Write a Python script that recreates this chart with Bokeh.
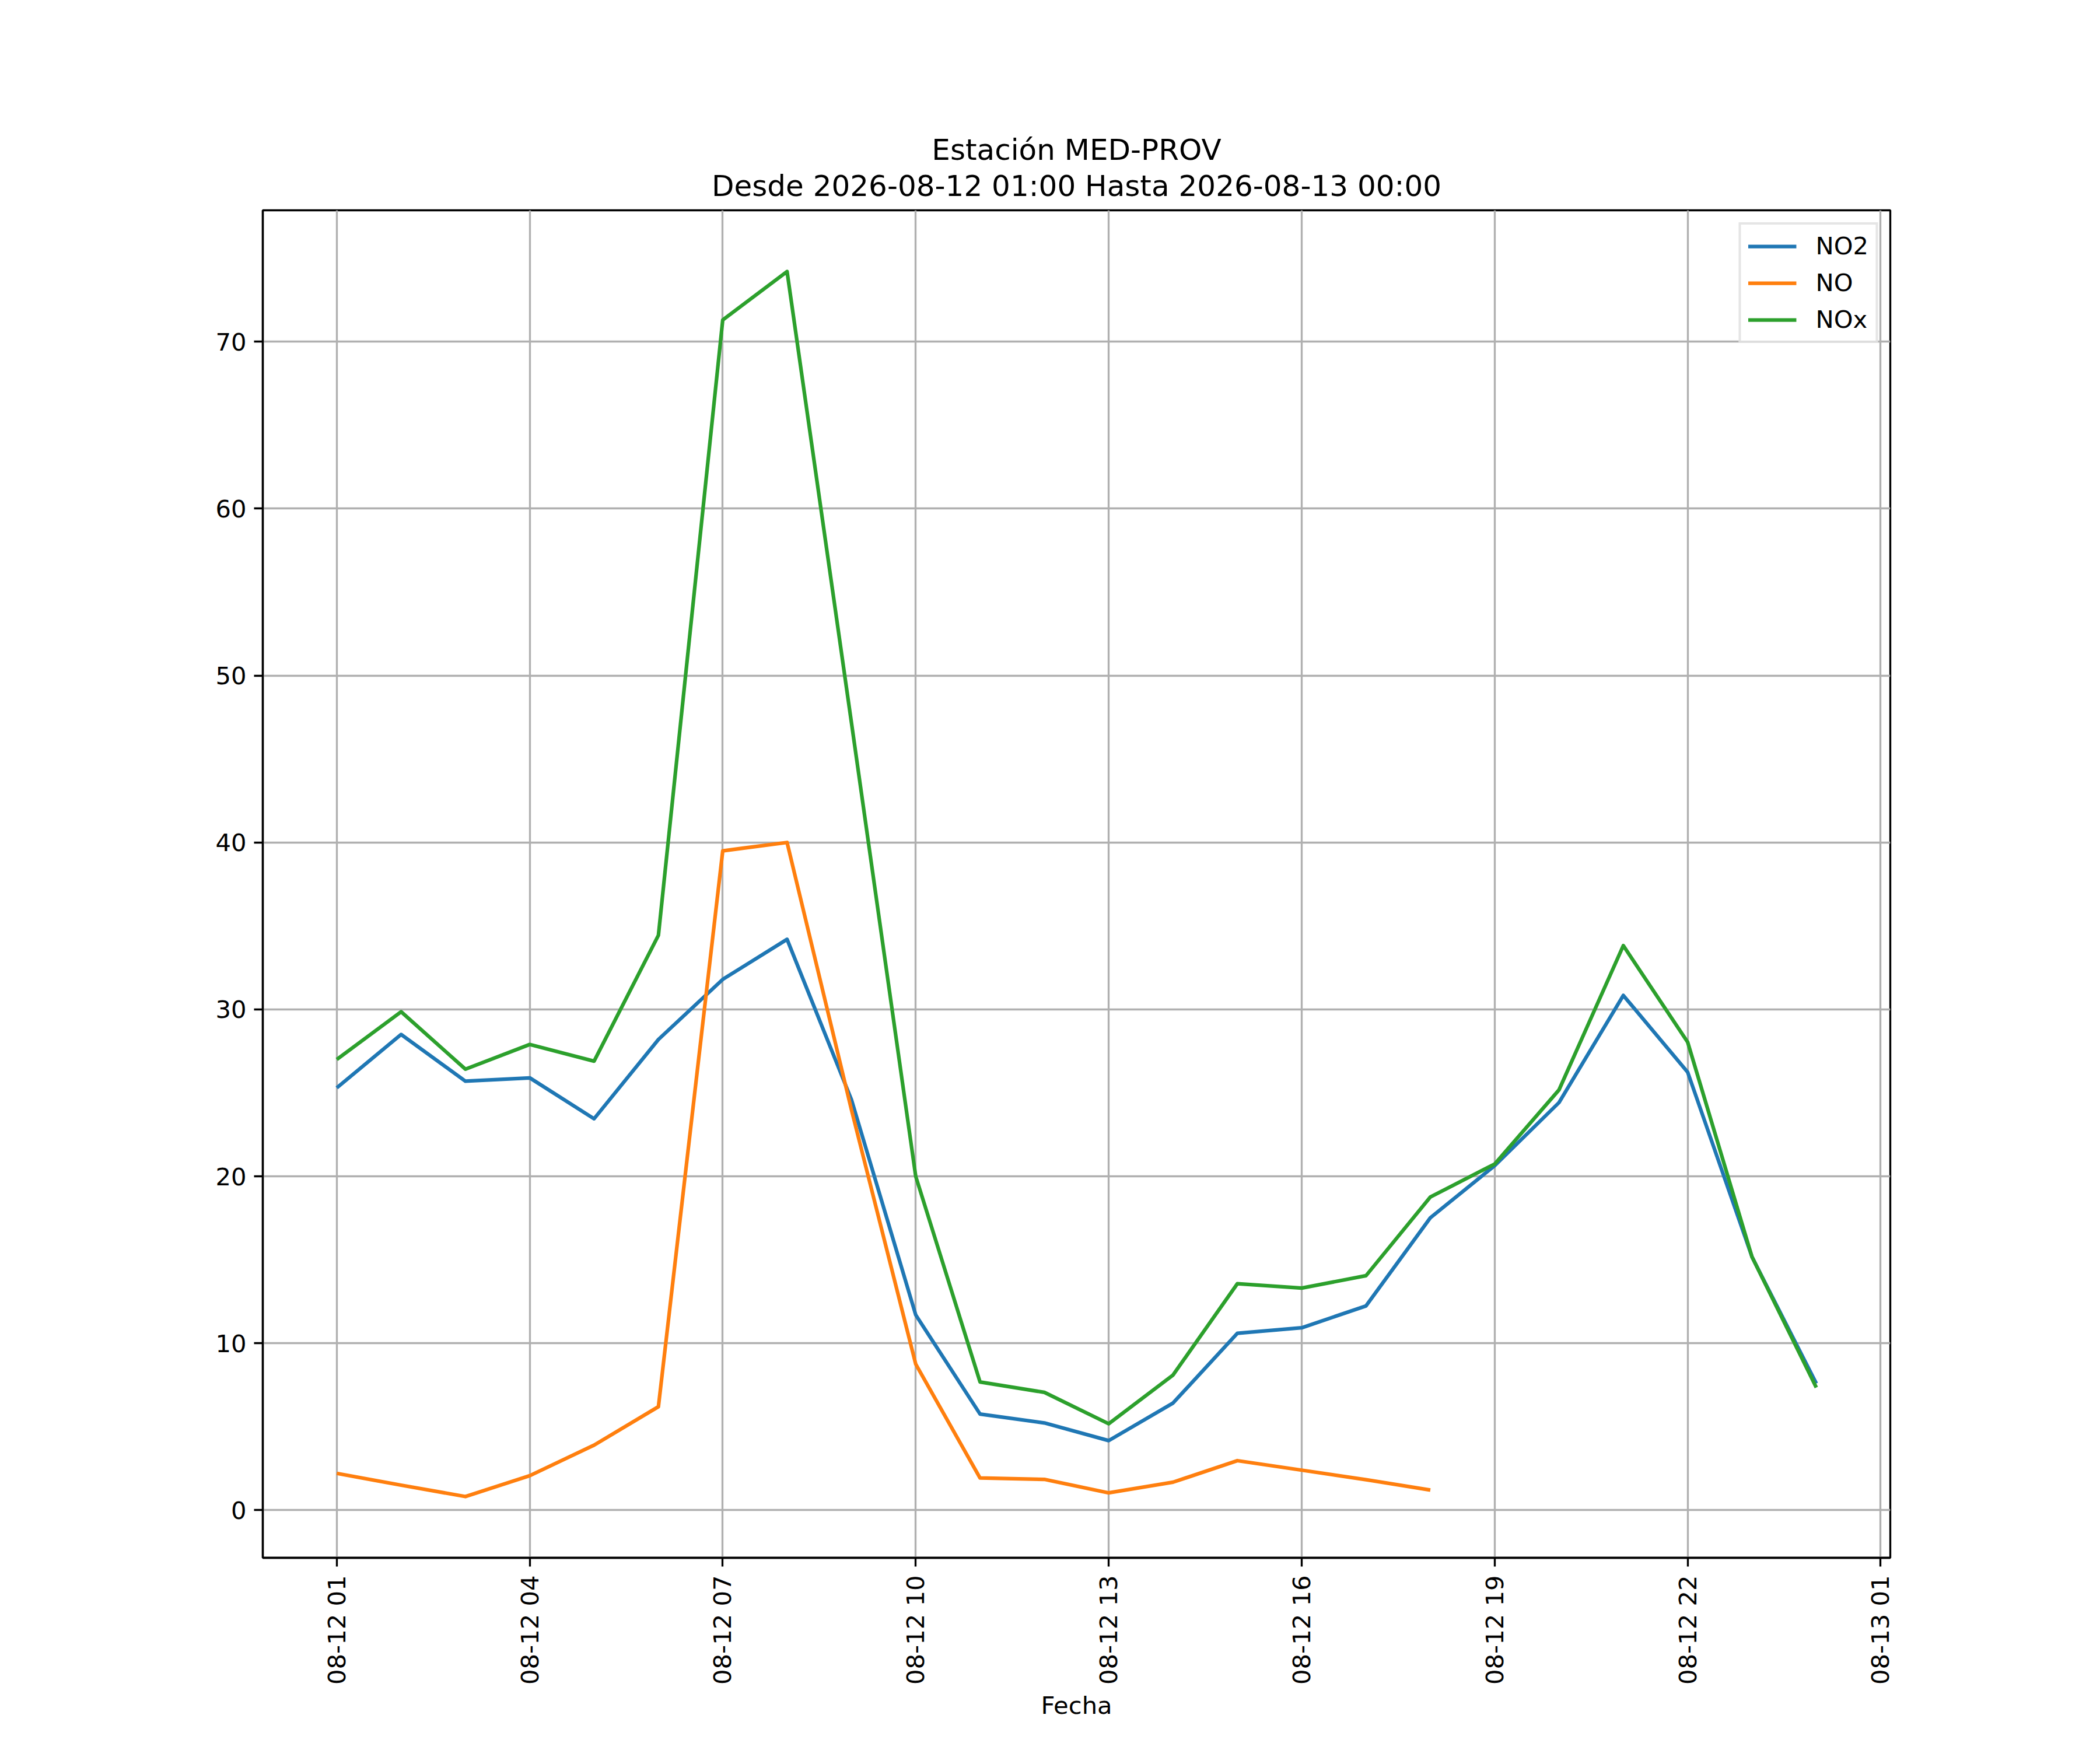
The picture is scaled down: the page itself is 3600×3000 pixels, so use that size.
import math
import numpy as np
import pandas as pd
from bokeh.plotting import figure
from bokeh.models import Range1d, FixedTicker, DatetimeTickFormatter, Title, ColumnDataSource
from bokeh.embed import file_html
from bokeh.resources import INLINE

# ---- data ----
times = pd.date_range("2026-08-12 01:00", periods=24, freq="h")
no2 = [25.3, 28.5, 25.7, 25.9, 23.45, 28.2, 31.8, 34.2, 24.6, 11.7, 5.76, 5.23,
       4.17, 6.42, 10.6, 10.93, 12.24, 17.52, 20.64, 24.42, 30.84, 26.24, 15.18, 7.59]
no = [2.21, 1.5, 0.82, 2.07, 3.9, 6.2, 39.5, 40.0, 24.0, 8.75, 1.93, 1.85,
      1.04, 1.68, 2.97, 2.40, 1.83, 1.21,
      np.nan, np.nan, np.nan, np.nan, np.nan, np.nan]
nox = [27.0, 29.86, 26.42, 27.9, 26.9, 34.44, 71.3, 74.2, 47.2, 20.0, 7.68, 7.06,
       5.18, 8.1, 13.57, 13.31, 14.05, 18.76, 20.74, 25.18, 33.82, 28.04, 15.18, 7.35]
series_names = ["NO2", "NO", "NOx"]
series_colors = ["#1f77b4", "#ff7f0e", "#2ca02c"]
x_ticks = pd.date_range("2026-08-12 01:00", "2026-08-13 01:00", freq="3h")
y_ticks = [0, 10, 20, 30, 40, 50, 60, 70]
title_line1 = "Estación MED-PROV"
title_line2 = "Desde 2026-08-12 01:00 Hasta 2026-08-13 00:00"
x_label = "Fecha"

FONT = "DejaVu Sans"
SCALE = 300 / 72.0  # px per pt

# ranges with 5% margins like matplotlib
t_ms = (times.astype("int64") // 10**6).to_numpy().astype(float)
span_x = t_ms[-1] - t_ms[0]
all_y = np.array(no2 + [v for v in no if not np.isnan(v)] + nox)
ymin, ymax = all_y.min(), all_y.max()
span_y = ymax - ymin

p = figure(width=3584, height=2984, x_axis_type="datetime",
           output_backend="svg", toolbar_location=None,
           x_range=Range1d(t_ms[0] - 0.05 * span_x, t_ms[-1] + 0.05 * span_x),
           y_range=Range1d(ymin - 0.05 * span_y, ymax + 0.05 * span_y),
           min_border_left=450, min_border_right=344,
           min_border_top=360, min_border_bottom=314)
p.title = None
p.background_fill_color = "white"
p.border_fill_color = "white"
p.outline_line_color = "black"
p.outline_line_width = 0.8 * SCALE

src = ColumnDataSource(dict(t=times, NO2=no2, NO=no, NOx=nox))
for name, col in zip(series_names, series_colors):
    p.line("t", name, source=src, line_color=col, line_width=1.5 * SCALE,
           line_join="round", legend_label=name)

# titles (first added sits closest to the plot)
p.add_layout(Title(text=title_line2, align="center", text_font=FONT,
                   text_font_size="50px", text_font_style="normal",
                   text_color="black", standoff=25), "above")
p.add_layout(Title(text=title_line1, align="center", text_font=FONT,
                   text_font_size="50px", text_font_style="normal",
                   text_color="black", standoff=-21), "above")

# axes
x_tick_ms = list((x_ticks.astype("int64") // 10**6).to_numpy().astype(float))
p.xaxis.ticker = FixedTicker(ticks=x_tick_ms)
fmt = "%m-%d %H"
p.xaxis.formatter = DatetimeTickFormatter(hours=fmt, hourmin=fmt, days=fmt,
                                          minutes=fmt, minsec=fmt, months=fmt)
p.yaxis.ticker = FixedTicker(ticks=y_ticks)
p.xaxis.major_label_orientation = math.pi / 2
for ax in (p.xaxis, p.yaxis):
    ax.axis_line_width = 0.8 * SCALE
    ax.axis_line_color = "black"
    ax.major_tick_line_width = 0.8 * SCALE
    ax.major_tick_line_color = "black"
    ax.major_tick_out = 15
    ax.major_tick_in = 0
    ax.minor_tick_out = 0
    ax.minor_tick_in = 0
    ax.major_label_text_font = FONT
    ax.major_label_text_font_size = "41.7px"
    ax.major_label_text_color = "black"
    ax.major_label_standoff = 15
p.yaxis.major_label_standoff = 13
p.xaxis.axis_label = x_label
p.xaxis.axis_label_text_font = FONT
p.xaxis.axis_label_text_font_size = "41.7px"
p.xaxis.axis_label_text_font_style = "normal"
p.xaxis.axis_label_text_color = "black"
p.xaxis.axis_label_standoff = 8

p.grid.grid_line_color = "#b0b0b0"
p.grid.grid_line_width = 0.8 * SCALE

# legend
lg = p.legend[0]
lg.location = "top_right"
lg.margin = 21
lg.padding = 12
lg.spacing = 14
lg.glyph_width = 83
lg.glyph_height = 42
lg.label_height = 42
lg.label_standoff = 33
lg.label_text_font = FONT
lg.label_text_font_size = "41.7px"
lg.label_text_color = "black"
lg.border_line_color = "#cccccc"
lg.border_line_width = 4
lg.background_fill_color = "white"
lg.background_fill_alpha = 0.8

open("out.html", "w").write(file_html(p, INLINE))
